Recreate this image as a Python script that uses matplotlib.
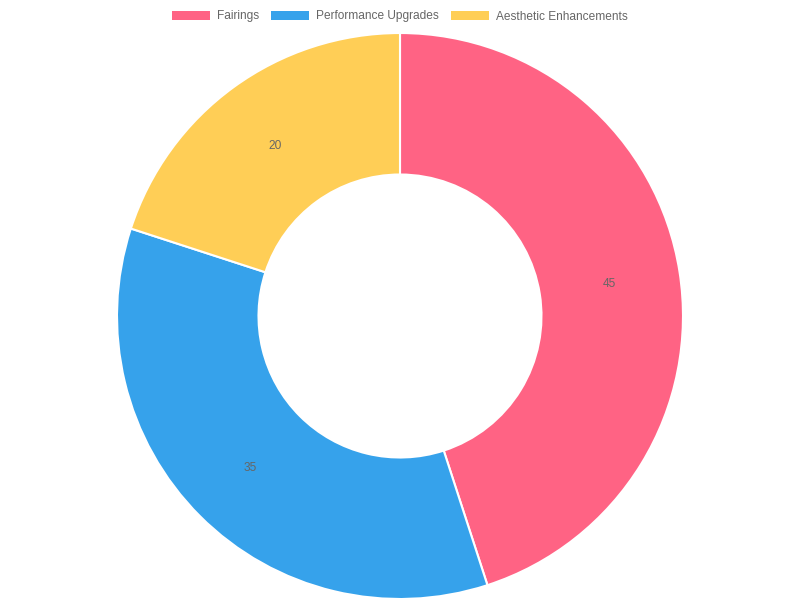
import matplotlib
matplotlib.use("Agg")
import matplotlib.pyplot as plt
from matplotlib.patches import Patch

categories = ["Fairings", "Performance Upgrades", "Aesthetic Enhancements"]
values = [45, 35, 20]
colors = ["#FF6384", "#36A2EB", "#FFCE56"]

plt.rcParams['font.family'] = ['Liberation Sans', 'DejaVu Sans']

fig = plt.figure(figsize=(8, 6), dpi=100)
ax = fig.add_axes([0.14625, 0.00167, 0.7075, 0.9433])
total = sum(values)
wedges, texts, autotexts = ax.pie(
    values, colors=colors, startangle=90, counterclock=False,
    radius=1.0, autopct=lambda p: f"{round(p * total / 100)}",
    pctdistance=0.75,
    wedgeprops=dict(width=0.5, edgecolor="white", linewidth=1.5),
    textprops=dict(fontsize=8.6, color="#666666"))
for t in autotexts:
    x, y = t.get_position()
    t.set_position((x, y - 0.005))
ax.set_xlim(-1, 1)
ax.set_ylim(-1, 1)
ax.set_aspect("equal")
ax.axis("off")

handles = [Patch(facecolor=c, edgecolor="none") for c in colors]
fig.legend(handles, categories, loc="center", bbox_to_anchor=(0.5, 0.9725),
           ncol=3, frameon=False, fontsize=8.6, labelcolor="#666666",
           handlelength=3.18, handleheight=0.85, handletextpad=0.58,
           columnspacing=1.0)

fig.savefig("out.png", dpi=100)
